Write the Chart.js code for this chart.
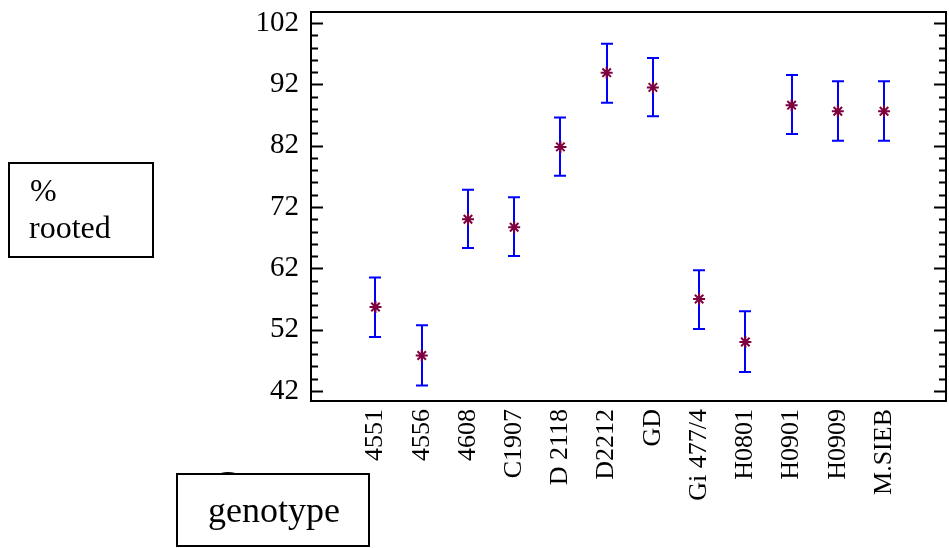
<!DOCTYPE html>
<html>
<head>
<meta charset="utf-8">
<script src="https://cdn.jsdelivr.net/npm/chart.js@4"></script>
<style>
  html, body { margin: 0; padding: 0; background: #fff; }
  #wrap { width: 949px; height: 548px; }
</style>
</head>
<body>
<div id="wrap"><canvas id="rootChart" width="949" height="548"></canvas></div>
<script>
// genotypes on the x axis
const genotypes = ['4551', '4556', '4608', 'C1907', 'D 2118', 'D2212', 'GD', 'Gi 477/4', 'H0801', 'H0901', 'H0909', 'M.SIEB'];
// mean % rooted and interval ends
const meanRooted = [55.7, 47.8, 70.0, 68.7, 81.8, 93.9, 91.5, 57.0, 50.0, 88.6, 87.6, 87.6];
const lowerRooted = [50.8, 42.9, 65.3, 64.0, 77.1, 89.0, 86.8, 52.1, 45.1, 83.9, 82.8, 82.8];
const upperRooted = [60.5, 52.7, 74.8, 73.6, 86.6, 98.6, 96.3, 61.7, 55.0, 93.5, 92.5, 92.5];
// y tick labels
const yTicks = [42, 52, 62, 72, 82, 92, 102];

const serif = "'Liberation Serif', 'Times New Roman', serif";

document.addEventListener('DOMContentLoaded', function() {
    const ctx = document.getElementById('rootChart').getContext('2d');

    const points = meanRooted.map((v, i) => ({ x: i, y: v }));

    // frame, inward ticks on both sides
    const framePlugin = {
        id: 'frame',
        afterDraw(chart) {
            const c = chart.ctx;
            const a = chart.chartArea;
            const ys = chart.scales.y;
            c.save();
            c.strokeStyle = '#000';
            c.lineWidth = 2;
            c.strokeRect(a.left, a.top, a.right - a.left, a.bottom - a.top);
            for (let v = 42; v <= 102; v += 2) {
                const py = Math.round(ys.getPixelForValue(v)) + 0.5;
                const len = (v - 42) % 10 === 0 ? 12 : 7;
                c.beginPath();
                c.moveTo(a.left, py);
                c.lineTo(a.left + len, py);
                c.moveTo(a.right, py);
                c.lineTo(a.right - len, py);
                c.stroke();
            }
            c.restore();

            // axis title boxes (an older title sits hidden under the genotype box)
            c.save();
            c.fillStyle = '#000';
            c.font = '38px ' + serif;
            c.textBaseline = 'alphabetic';
            c.fillText('Genotype', 213, 497);

            c.fillStyle = '#fff';
            c.fillRect(177, 474, 192, 72);
            c.strokeStyle = '#000';
            c.lineWidth = 2;
            c.strokeRect(177, 474, 192, 72);
            c.fillStyle = '#000';
            c.font = '36px ' + serif;
            c.fillText('genotype', 208, 522, 134);

            c.strokeRect(9, 163, 144, 94);
            c.font = '32px ' + serif;
            c.fillText('%', 30, 201);
            c.fillText('rooted', 29, 238);
            c.restore();
        }
    };

    // vertical interval bars with caps
    const errorBarPlugin = {
        id: 'errorBars',
        beforeDatasetsDraw(chart) {
            const c = chart.ctx;
            const xs = chart.scales.x;
            const ys = chart.scales.y;
            c.save();
            c.strokeStyle = '#0000ff';
            c.lineWidth = 2;
            genotypes.forEach((g, i) => {
                const px = Math.round(xs.getPixelForValue(i));
                const top = ys.getPixelForValue(upperRooted[i]);
                const bot = ys.getPixelForValue(lowerRooted[i]);
                c.beginPath();
                c.moveTo(px, top);
                c.lineTo(px, bot);
                c.moveTo(px - 6, top);
                c.lineTo(px + 6, top);
                c.moveTo(px - 6, bot);
                c.lineTo(px + 6, bot);
                c.stroke();
            });
            c.restore();
        }
    };

    const noPad = (scale) => {
        scale.paddingTop = 0;
        scale.paddingBottom = 0;
        scale.paddingLeft = 0;
        scale.paddingRight = 0;
    };

    const rootChart = new Chart(ctx, {
        type: 'scatter',
        data: {
            datasets: [{
                label: '% rooted',
                data: points,
                pointStyle: 'star',
                pointRadius: 6,
                pointBorderWidth: 2,
                borderColor: '#7f003f',
                backgroundColor: '#7f003f'
            }]
        },
        options: {
            responsive: false,
            animation: false,
            layout: { autoPadding: false, padding: { top: 12, right: 3, left: 0, bottom: 0 } },
            plugins: {
                legend: { display: false },
                tooltip: { enabled: false }
            },
            scales: {
                x: {
                    type: 'linear',
                    min: -1.395,
                    max: 12.34,
                    grid: { display: false },
                    border: { display: false },
                    afterBuildTicks: (scale) => {
                        scale.ticks = genotypes.map((g, i) => ({ value: i }));
                    },
                    afterFit: (scale) => { scale.height = 147; noPad(scale); },
                    ticks: {
                        autoSkip: false,
                        minRotation: 90,
                        maxRotation: 90,
                        padding: 0,
                        color: '#000',
                        font: { family: serif, size: 26 },
                        callback: (v) => genotypes[v]
                    }
                },
                y: {
                    min: 40.37,
                    max: 103.79,
                    grid: { display: false },
                    border: { display: false },
                    afterBuildTicks: (scale) => {
                        scale.ticks = yTicks.map(v => ({ value: v }));
                    },
                    afterFit: (scale) => { scale.width = 311; noPad(scale); },
                    ticks: {
                        padding: 4,
                        color: '#000',
                        font: { family: serif, size: 29 }
                    }
                }
            }
        },
        plugins: [errorBarPlugin, framePlugin]
    });
});
</script>
</body>
</html>
